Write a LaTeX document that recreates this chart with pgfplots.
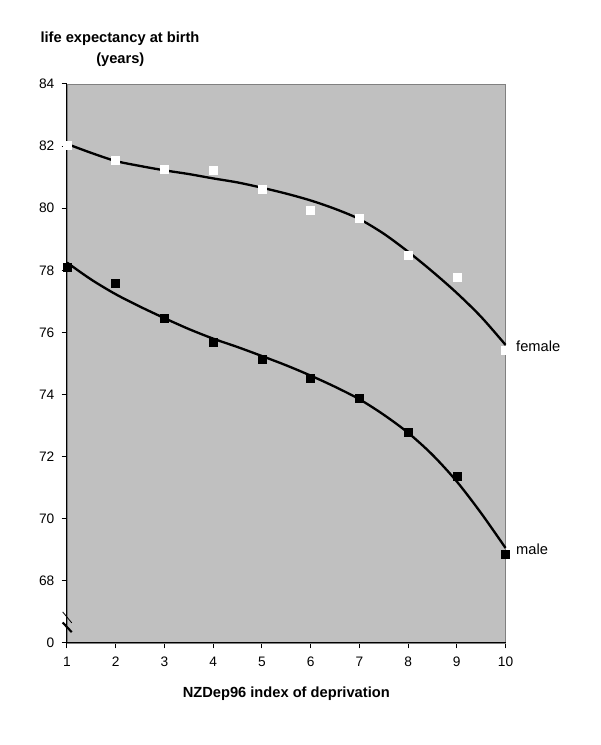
\documentclass[border=0pt]{standalone}
\usepackage{pgfplots}
\pgfplotsset{compat=1.18}
\usepackage{fontspec}
\setmainfont{Liberation Sans}
\usetikzlibrary{calc}
\definecolor{bgray}{HTML}{C0C0C0}
\definecolor{bordgray}{HTML}{808080}

\begin{document}
\begin{tikzpicture}
\begin{axis}[
  name=ax,
  scale only axis,
  width=328.9pt, height=419.25pt,
  xmin=1, xmax=10, ymin=66, ymax=84,
  xtick={1,2,3,4,5,6,7,8,9,10},
  ytick={66,68,70,72,74,76,78,80,82,84},
  yticklabels={0,68,70,72,74,76,78,80,82,84},
  xtick pos=left, ytick pos=left,
  tick align=outside,
  major tick length=4pt,
  tick style={black, line width=0.75pt},
  axis background/.style={fill=bgray},
  axis line style={draw=bordgray, line width=0.6pt},
  /pgf/number format/assume math mode=true,
  ticklabel style={font=\fontsize{10.3}{12}\selectfont},
  yticklabel style={xshift=-2pt},
  xticklabel style={yshift=-3pt},
  clip=false,
]
% data points
\addplot[only marks, mark=square*, mark size=3pt, mark options={fill=white, draw=white}]
  coordinates {(1,82.04) (2,81.54) (3,81.24) (4,81.21) (5,80.62) (6,79.95) (7,79.67) (8,78.50) (9,77.79) (10,75.41)};
\addplot[only marks, mark=square*, mark size=3pt, mark options={fill=black, draw=black}]
  coordinates {(1,78.10) (2,77.58) (3,76.45) (4,75.68) (5,75.14) (6,74.54) (7,73.87) (8,72.78) (9,71.36) (10,68.87)};
% trend curves
\addplot[black, line width=1.75pt, smooth, tension=0.5, no marks]
  coordinates {(1,82.07) (1.5,81.78) (2,81.52) (2.5,81.36) (3,81.22) (3.5,81.10) (4,80.96) (4.5,80.83) (5,80.66) (5.5,80.47) (6,80.25) (6.5,79.98) (7,79.65) (7.5,79.18) (8,78.60) (8.5,77.96) (9,77.27) (9.5,76.50) (10,75.60)};
\addplot[black, line width=1.75pt, smooth, tension=0.5, no marks]
  coordinates {(1,78.25) (1.5,77.70) (2,77.23) (2.5,76.83) (3,76.46) (3.5,76.11) (4,75.80) (4.5,75.53) (5,75.24) (5.5,74.94) (6,74.61) (6.5,74.25) (7,73.85) (7.5,73.35) (8,72.77) (8.5,72.06) (9,71.20) (9.5,70.18) (10,69.06)};
% black left and bottom axes
\draw[black, line width=0.75pt] (rel axis cs:0,1) -- (rel axis cs:0,0) -- (rel axis cs:1,0);
% axis break marks
\draw[black, line width=0.6pt] (axis cs:0.912,67.0) -- (axis cs:1.097,66.65);
\draw[black, line width=1.6pt] (axis cs:0.912,66.66) -- (axis cs:1.097,66.35);
% series labels
\node[anchor=west, inner sep=0pt, xshift=7.8pt, font=\fontsize{11}{13}\selectfont] at (axis cs:10,75.57) {female};
\node[anchor=west, inner sep=0pt, xshift=7.8pt, font=\fontsize{11}{13}\selectfont] at (axis cs:10,69.02) {male};
\end{axis}
\node[font=\fontsize{11}{13}\bfseries\selectfont] at ($(ax.north west)+(39.75pt,33.75pt)$) {life expectancy at birth};
\node[font=\fontsize{11}{13}\bfseries\selectfont] at ($(ax.north west)+(40pt,18pt)$) {(years)};
\node[font=\fontsize{11}{13}\bfseries\selectfont] at ($(ax.south)+(0,-38.25pt)$) {NZDep96 index of deprivation};
\pgfresetboundingbox
\path[use as bounding box] ($(ax.south west)+(-50.25pt,-76.5pt)$) rectangle ($(ax.north east)+(70.875pt,63pt)$);
\end{tikzpicture}
\end{document}
